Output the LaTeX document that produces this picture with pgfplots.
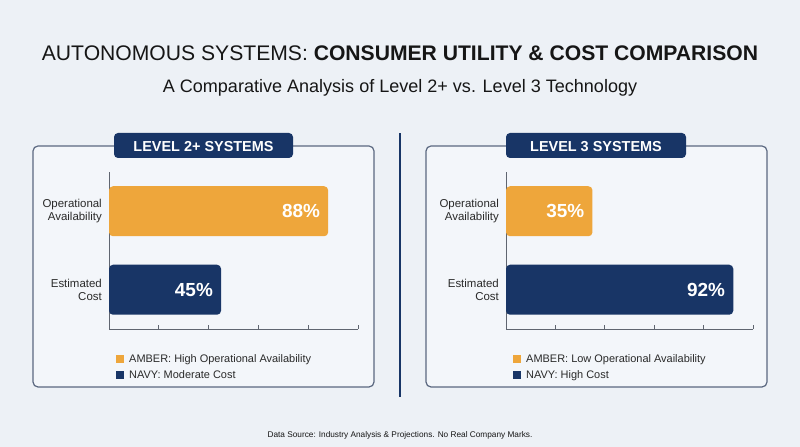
\documentclass[border=0pt]{standalone}
\usepackage{pgfplots}
\pgfplotsset{compat=1.18}
\usepackage{fontspec}
\setmainfont{Liberation Sans}

\definecolor{bg}{HTML}{EDF1F6}
\definecolor{panelfill}{HTML}{F3F6FA}
\definecolor{panelline}{HTML}{5B6880}
\definecolor{navy}{HTML}{183566}
\definecolor{amber}{HTML}{EEA63B}
\definecolor{ink}{HTML}{161616}
\definecolor{ink2}{HTML}{2A2A2A}
\definecolor{axisgray}{HTML}{5F6570}

\pgfplotsset{
  panel/.style={
    scale only axis, height=157bp,
    xmin=0, xmax=100, ymin=-0.5, ymax=1.5,
    axis lines=left, axis line style={-, draw=axisgray, line width=0.8bp},
    xtick={20,40,60,80,100}, xticklabels=\empty,
    tick align=inside, major tick length=4bp,
    xtick style={draw=axisgray, line width=0.8bp},
    ytick={0,1}, ytick style={draw=none},
    yticklabels={{Estimated\\Cost},{Operational\\Availability}},
    yticklabel style={align=right, font=\fontsize{11.5}{13}\selectfont,
      text=ink2, inner sep=0pt, xshift=-7bp},
    /pgf/number format/assume math mode=true,
    clip=false,
    point meta=x,
    nodes near coords={\pgfmathprintnumber{\pgfplotspointmeta}\%},
    every node near coord/.append style={anchor=east, inner sep=0pt, xshift=-8bp,
      text=white, font=\fontsize{19}{21}\selectfont\bfseries},
    legend cell align=left,
    legend style={at={(rel axis cs:0,0)}, anchor=north west,
      xshift=7bp, yshift=-25bp, draw=none, fill=none, inner sep=0pt,
      font=\fontsize{11}{13}\selectfont, text=ink2, row sep=6.5bp,
      nodes={inner sep=0pt},
      /tikz/every odd column/.append style={column sep=5bp}},
    legend image code/.code={\fill[##1,draw=none,sharp corners] (0bp,-4bp) rectangle (8bp,4bp);},
  },
  bar/.style={xbar, bar width=50bp, bar shift=0pt, draw=none, rounded corners=4bp},
}

\begin{document}
\begin{tikzpicture}[x=1bp,y=1bp]
\fill[bg] (0,0) rectangle (800,447);

% titles
\node[anchor=base, inner sep=0pt, text=ink, font=\fontsize{21.2}{25}\selectfont]
  at (400,386) {AUTONOMOUS SYSTEMS: \textbf{CONSUMER UTILITY \& COST COMPARISON}};
\node[anchor=base, inner sep=0pt, text=ink, font=\fontsize{18.1}{22}\selectfont]
  at (400,354) {A Comparative Analysis of Level 2+ vs. Level 3 Technology};

% panel frames
\draw[panelline, line width=1.2bp, fill=panelfill, rounded corners=5bp] (33,60) rectangle (374,301);
\draw[panelline, line width=1.2bp, fill=panelfill, rounded corners=5bp] (426,60) rectangle (767,301);
\draw[navy, line width=2bp] (400,50) -- (400,314);

\fill[navy, rounded corners=4bp] (114,289) rectangle (293,314);
\node[anchor=base, text=white, font=\fontsize{14.5}{16}\selectfont\bfseries] at (203.5,295) {LEVEL 2+ SYSTEMS};
\fill[navy, rounded corners=4bp] (506,289) rectangle (686,314);
\node[anchor=base, text=white, font=\fontsize{14.5}{16}\selectfont\bfseries] at (596,295) {LEVEL 3 SYSTEMS};

% left panel
\begin{axis}[panel, at={(109bp,118bp)}, anchor=south west, width=249bp]
\addplot[bar, fill=amber] coordinates {(88,1)};
\addlegendentry{AMBER: High Operational Availability}
\addplot[bar, fill=navy] coordinates {(45,0)};
\addlegendentry{NAVY: Moderate Cost}
\end{axis}

% right panel
\begin{axis}[panel, at={(506bp,118bp)}, anchor=south west, width=247bp]
\addplot[bar, fill=amber] coordinates {(35,1)};
\addlegendentry{AMBER: Low Operational Availability}
\addplot[bar, fill=navy] coordinates {(92,0)};
\addlegendentry{NAVY: High Cost}
\end{axis}

\node[anchor=base, inner sep=0pt, text=ink, font=\fontsize{8.3}{10}\selectfont]
  at (400,9) {Data Source: Industry Analysis \& Projections. No Real Company Marks.};
\end{tikzpicture}
\end{document}
